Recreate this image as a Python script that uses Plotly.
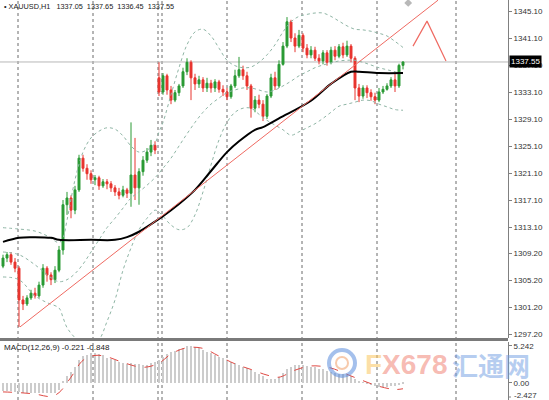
import plotly.graph_objects as go

# ---------------- data ----------------
idx = list(range(101))

opens = [1307.3,1308.5,1309.0,1307.9,1307.0,1302.3,1301.7,1302.6,1303.3,1302.9,
         1304.5,1307.0,1306.0,1305.3,1306.7,1309.7,1316.4,1317.4,1315.6,1318.6,
         1323.3,1321.8,1321.0,1320.1,1320.4,1319.2,1319.8,1319.5,1318.9,1318.3,
         1317.8,1318.6,1318.1,1320.8,1318.9,1321.3,1323.0,1324.2,1325.2,1335.2,
         1333.1,1335.5,1333.4,1331.9,1333.0,1334.0,1336.1,1337.5,1335.2,1334.3,
         1334.9,1333.7,1334.4,1333.7,1334.6,1333.5,1333.1,1332.4,1334.0,1335.5,
         1336.4,1335.5,1334.0,1330.7,1331.9,1331.3,1329.5,1332.5,1335.2,1334.0,
         1337.2,1339.9,1343.5,1341.1,1339.9,1341.5,1339.6,1338.6,1339.3,1338.1,
         1337.7,1338.9,1337.5,1339.3,1338.4,1339.8,1338.6,1339.9,1338.1,1333.7,
         1332.5,1333.7,1333.0,1332.4,1331.9,1333.1,1333.5,1334.0,1334.9,1334.0,
         1337.05]

closes = [1308.5,1309.0,1307.9,1307.0,1302.3,1301.7,1302.6,1303.3,1302.9,1304.5,
          1307.0,1306.0,1305.3,1306.7,1309.7,1316.4,1317.4,1315.6,1318.6,1323.3,
          1321.8,1321.0,1320.1,1320.4,1319.2,1319.8,1319.5,1318.9,1318.3,1317.8,
          1318.6,1318.1,1320.8,1318.9,1321.3,1323.0,1324.2,1325.2,1324.5,1333.1,
          1335.5,1333.4,1331.9,1333.0,1334.0,1336.1,1337.5,1335.2,1334.3,1334.9,
          1333.7,1334.4,1333.7,1334.6,1333.5,1333.1,1332.4,1334.0,1335.5,1336.4,
          1335.5,1334.0,1330.7,1331.9,1331.3,1329.5,1332.5,1335.2,1334.0,1337.2,
          1339.9,1343.5,1341.1,1339.9,1341.5,1339.6,1338.6,1339.3,1338.1,1337.7,
          1338.9,1337.5,1339.3,1338.4,1339.8,1338.6,1339.9,1338.1,1333.7,1332.5,
          1333.7,1333.0,1332.4,1331.9,1333.1,1333.5,1334.0,1334.9,1334.0,1337.05,
          1337.55]

highs = [1309.0,1309.4,1309.4,1308.5,1307.3,1302.9,1303.0,1303.8,1304.1,1305.0,
         1307.6,1307.3,1306.4,1307.3,1310.3,1317.1,1318.3,1317.8,1319.2,1323.8,
         1323.8,1322.4,1321.5,1320.8,1320.7,1320.2,1320.2,1319.9,1319.3,1318.9,
         1319.2,1318.9,1328.6,1326.3,1321.8,1323.6,1324.8,1326.0,1325.8,1337.5,
         1335.9,1335.8,1334.0,1333.4,1334.3,1336.7,1338.1,1337.8,1335.8,1335.5,
         1335.3,1335.2,1334.9,1335.0,1334.9,1334.1,1333.7,1334.3,1336.4,1338.3,
         1337.0,1336.1,1334.3,1332.5,1332.7,1331.9,1332.8,1335.8,1336.1,1337.8,
         1340.5,1344.2,1343.8,1341.8,1342.3,1341.8,1340.2,1339.9,1339.8,1338.7,
         1339.3,1339.3,1339.8,1339.9,1340.2,1340.4,1340.7,1340.2,1338.4,1334.3,
         1334.1,1334.1,1333.5,1333.0,1333.7,1334.0,1334.4,1335.3,1335.8,1337.3,
         1337.65]

lows = [1307.0,1307.9,1307.5,1306.4,1298.3,1300.8,1301.4,1302.3,1302.5,1302.6,
        1304.1,1305.0,1304.5,1304.8,1306.4,1309.0,1314.9,1314.4,1315.0,1318.3,
        1321.3,1320.1,1319.5,1319.3,1318.6,1318.9,1318.7,1318.3,1317.7,1317.2,
        1317.5,1317.4,1316.1,1317.1,1316.4,1320.7,1322.6,1323.6,1323.9,1332.5,
        1332.7,1332.7,1331.3,1331.6,1332.5,1333.7,1335.6,1331.9,1333.4,1333.7,
        1333.1,1333.1,1333.0,1333.1,1333.0,1332.5,1331.9,1332.1,1333.7,1335.2,
        1334.9,1333.4,1329.3,1330.1,1330.7,1328.8,1329.1,1332.2,1333.4,1333.7,
        1337.0,1339.6,1340.5,1339.0,1339.6,1339.0,1338.1,1338.1,1337.7,1337.2,
        1337.2,1337.0,1337.2,1337.8,1338.1,1338.1,1338.3,1337.5,1331.9,1331.6,
        1332.1,1332.2,1331.8,1331.3,1331.6,1332.8,1333.3,1333.7,1333.1,1333.7,
        1336.45]

# moving average (black)
ma_idx = [0, 4, 7, 12, 14, 22, 28, 31, 34, 38, 40, 44, 48, 52, 56, 59, 63, 65, 69, 77, 82, 87, 89, 94, 100]
ma_val = [1310.9, 1311.5, 1311.6, 1311.5, 1311.2, 1311.2, 1311.2, 1311.6, 1312.4, 1313.9, 1314.7,
          1316.5, 1318.6, 1321.4, 1324.2, 1325.8, 1327.5, 1327.9, 1329.2, 1331.8, 1334.3, 1336.1,
          1336.1, 1335.9, 1335.9]

# Bollinger bands
ub_idx = [0,4,8,11,14,15,16,18,20,22,24,26,28,30,32,34,36,38,39,40,42,44,46,48,50,52,54,56,58,60,
          62,64,66,68,70,72,74,76,78,80,82,84,86,88,90,92,94,96,98,100]
ub_val = [1313.0,1312.8,1312.5,1311.8,1310.8,1311.5,1314.1,1320.1,1324.2,1326.3,1327.3,1327.8,1327.6,
          1326.6,1325.1,1324.2,1324.5,1325.5,1327.2,1328.6,1332.7,1336.7,1340.1,1342.0,1342.4,1341.4,
          1339.6,1337.8,1337.0,1336.7,1336.8,1337.5,1338.6,1340.1,1342.0,1343.5,1344.3,1344.6,1344.8,
          1344.8,1344.3,1343.6,1342.9,1342.4,1342.3,1342.1,1341.8,1341.4,1340.6,1339.7]

mid_idx = [0,4,8,12,14,16,18,20,22,24,26,28,30,32,34,36,38,40,42,44,46,48,50,52,54,56,58,60,62,64,
           66,68,70,72,74,76,78,80,82,84,86,88,90,92,94,96,98,100]
mid_val = [1309.4,1309.0,1307.5,1305.6,1305.0,1305.3,1306.2,1307.6,1309.4,1311.2,1313.0,1314.4,1315.9,
           1317.4,1318.3,1319.3,1320.4,1321.8,1323.3,1325.1,1326.9,1328.6,1330.1,1331.3,1332.2,1333.0,
           1333.4,1333.7,1333.7,1333.4,1333.1,1333.4,1334.0,1334.7,1335.5,1336.1,1336.7,1337.1,1337.4,
           1337.7,1337.8,1337.8,1337.5,1337.1,1336.7,1336.4,1336.1,1335.8]

lb_idx = [0,4,8,11,14,15,16,18,20,22,24,26,28,30,32,34,36,38,39,40,42,44,46,48,50,52,54,56,58,60,
          62,64,66,68,70,72,74,76,78,80,82,84,86,88,90,92,94,96,98,100]
lb_val = [1305.7,1305.3,1302.9,1301.9,1301.1,1299.7,1298.2,1296.7,1295.7,1295.7,1296.4,1299.1,1302.3,
          1306.7,1310.0,1312.7,1314.4,1315.6,1315.3,1314.7,1313.4,1312.7,1313.0,1314.9,1318.3,1322.3,
          1326.0,1328.6,1330.1,1330.7,1330.7,1329.8,1328.9,1328.2,1327.5,1326.7,1327.2,1327.8,1328.4,
          1329.2,1330.1,1331.0,1331.3,1331.6,1331.9,1331.8,1331.3,1330.9,1330.5,1330.4]

# trend line and drawn pattern
trend_idx = [4.25, 108.75]
trend_val = [1298.3, 1346.7]
wave_idx = [102.5, 106.0, 110.75]
wave_val = [1339.9, 1343.6, 1337.7]

# day separators
sep_idx = [3.75, 22.5, 38.75, 39.75, 56.0, 74.75, 93.5, 113.25]

# MACD
macd_hist = [-1.2,-1.2,-1.2,-1.3,-1.3,-1.4,-1.4,-1.4,-1.5,-1.5,
             -1.4,-1.4,-1.5,-1.4,-1.0,0.2,1.0,1.5,2.2,3.2,
             3.8,4.0,4.2,4.2,4.1,3.9,3.6,3.4,3.2,3.0,
             2.8,2.7,2.8,2.7,2.7,2.6,2.6,2.8,3.0,3.3,
             3.7,4.1,4.4,4.6,4.8,5.0,5.2,5.2,5.1,5.0,
             4.7,4.4,4.2,4.0,3.7,3.5,3.3,3.0,2.8,2.5,
             2.3,2.1,1.8,1.5,1.2,0.9,0.6,0.5,0.5,0.8,
             1.4,1.9,2.3,2.5,2.5,2.5,2.4,2.3,2.2,2.0,
             1.9,1.7,1.5,1.4,1.3,1.2,1.1,0.9,0.6,0.3,
             0.1,-0.1,-0.3,-0.5,-0.6,-0.6,-0.6,-0.5,-0.5,-0.3,
             -0.221]
sig_idx = [0,4,8,12,14,17,20,23,26,30,35,39,42,46,50,54,58,62,66,69,73,77,82,86,90,94,98,100]
sig_val = [-1.3,-1.4,-1.6,-1.95,-1.4,0.8,3.2,3.9,3.7,2.9,2.2,2.8,4.1,5.0,4.9,3.8,2.7,1.9,1.1,0.8,
           1.8,2.4,2.1,1.2,0.3,-0.5,-0.95,-0.848]

price_ticks = [1345.10,1341.10,1337.10,1333.10,1329.10,1325.10,1321.10,1317.10,1313.10,
               1309.20,1305.20,1301.20,1297.20]
macd_ticks = [5.242, 0.0]
macd_ticktext = ["5.242", "0.00"]
macd_min_label = "-2.427"
last_price = 1337.55

# ---------------- figure ----------------
W, H = 549, 400
XR = 508 / W
GREEN = "#2a9a34"
RED = "#e8342e"
BAND = "#8fb5a5"
FONT = "Liberation Sans"

fig = go.Figure()

for xs, ys in [(ub_idx, ub_val), (mid_idx, mid_val), (lb_idx, lb_val)]:
    fig.add_trace(go.Scatter(x=xs, y=ys, mode="lines", line=dict(color=BAND, width=1, dash="dot", shape="spline"),
                             hoverinfo="skip", showlegend=False))

fig.add_trace(go.Scatter(x=ma_idx, y=ma_val, mode="lines", line=dict(color="#000000", width=2, shape="spline"),
                         showlegend=False))
fig.add_trace(go.Scatter(x=trend_idx, y=trend_val, mode="lines", line=dict(color="#ef6a62", width=1),
                         showlegend=False))
fig.add_trace(go.Scatter(x=wave_idx, y=wave_val, mode="lines", line=dict(color="#ef6a62", width=1.2),
                         showlegend=False))

fig.add_trace(go.Candlestick(x=idx, open=opens, high=highs, low=lows, close=closes,
                             increasing=dict(line=dict(color=GREEN, width=1), fillcolor=GREEN),
                             decreasing=dict(line=dict(color=RED, width=1), fillcolor=RED),
                             whiskerwidth=0, showlegend=False))

fig.add_trace(go.Scatter(x=[101.3], y=[1346.3], mode="markers",
                         marker=dict(symbol="diamond", size=6, color="#b8b8b8"), showlegend=False))

fig.add_trace(go.Bar(x=idx, y=macd_hist, xaxis="x2", yaxis="y2", marker=dict(color="#cccccc", line=dict(width=0)),
                     width=0.25, showlegend=False))
fig.add_trace(go.Scatter(x=sig_idx, y=sig_val, xaxis="x2", yaxis="y2", mode="lines",
                         line=dict(color="#e04a44", width=1, dash="dash", shape="spline"), showlegend=False))

shapes = []
for s in sep_idx:
    shapes.append(dict(type="line", xref="x", yref="paper", x0=s, x1=s, y0=0, y1=1,
                       line=dict(color="#6a6a6a", width=1, dash="dot"), layer="below"))
shapes.append(dict(type="line", xref="paper", yref="y", x0=0, x1=XR, y0=last_price, y1=last_price,
                   line=dict(color="#b8b8b8", width=1), layer="below"))
shapes.append(dict(type="rect", xref="paper", yref="paper", x0=0, x1=XR, y0=1 - 341 / H, y1=1 - 338 / H,
                   fillcolor="#7a7a7a", line=dict(width=0)))
# small tick for the lowest MACD label
shapes.append(dict(type="line", xref="paper", yref="paper", x0=XR, x1=511 / W, y0=1 - 397 / H, y1=1 - 397 / H,
                   line=dict(color="#808080", width=1)))
# watermark logo
shapes.append(dict(type="circle", xref="paper", yref="paper", x0=329 / W, x1=355 / W,
                   y0=1 - 376 / H, y1=1 - 350 / H, line=dict(color="rgba(90,140,220,0.55)", width=4)))
shapes.append(dict(type="circle", xref="paper", yref="paper", x0=336 / W, x1=348 / W,
                   y0=1 - 369 / H, y1=1 - 357 / H, line=dict(color="rgba(240,150,90,0.5)", width=2)))

sp = "&nbsp;"
annotations = [
    dict(text="•" + sp + "XAUUSD,H1" + sp * 3 + "1337.05" + sp * 2 + "1337.65" + sp * 2 + "1336.45" + sp * 2 + "1337.55",
         xref="paper", yref="paper", x=2 / W, y=1 - 6 / H, xanchor="left", yanchor="middle",
         showarrow=False, font=dict(family=FONT, size=7.3, color="#222222")),
    dict(text="MACD(12,26,9) -0.221 -0.848", xref="paper", yref="paper", x=2 / W, y=1 - 347 / H,
         xanchor="left", yanchor="middle", showarrow=False, font=dict(family=FONT, size=8, color="#222222")),
    dict(text="1337.55", xref="paper", yref="y", x=509 / W, y=last_price, xanchor="left", yanchor="middle",
         showarrow=False, bgcolor="#000000", borderpad=1, font=dict(family=FONT, size=8, color="#ffffff")),
    dict(text=macd_min_label, xref="paper", yref="paper", x=512 / W, y=1 - 395.5 / H, xanchor="left",
         yanchor="middle", showarrow=False, font=dict(family=FONT, size=8, color="#333333")),
    dict(text="<b><span style='color:rgba(250,195,90,0.55)'>F</span>"
              "<span style='color:rgba(240,130,115,0.55)'>X678</span></b>",
         xref="paper", yref="paper", x=406 / W, y=1 - 364 / H, xanchor="center", yanchor="middle",
         showarrow=False, font=dict(family="Liberation Sans Narrow, Liberation Sans", size=28)),
    dict(text="<b>汇通网</b>", xref="paper", yref="paper", x=491 / W, y=1 - 364 / H, xanchor="center",
         yanchor="middle", showarrow=False,
         font=dict(family="Noto Sans CJK SC", size=26, color="rgba(110,155,225,0.5)")),
]

axis_font = dict(family=FONT, size=8, color="#333333")
fig.update_layout(
    width=W, height=H, margin=dict(l=0, r=0, t=0, b=0),
    paper_bgcolor="white", plot_bgcolor="white", showlegend=False,
    bargap=0,
    xaxis=dict(domain=[0, XR], range=[-0.75, 126.25], anchor="y", showgrid=False, zeroline=False,
               showticklabels=False, ticks="", rangeslider=dict(visible=False), fixedrange=True),
    yaxis=dict(domain=[1 - 338 / H, 1], range=[1296.66, 1346.73], side="right", anchor="x",
               tickvals=price_ticks, ticktext=[f"{v:.2f}" for v in price_ticks],
               showgrid=False, zeroline=False, showline=True, linecolor="#808080", linewidth=1,
               ticks="outside", ticklen=3, tickcolor="#808080", tickfont=axis_font),
    xaxis2=dict(domain=[0, XR], range=[-0.75, 126.25], anchor="y2", matches="x", showgrid=False,
                zeroline=False, showticklabels=False, ticks="", visible=False),
    yaxis2=dict(domain=[0, 1 - 342 / H], range=[-2.45, 5.81], side="right", anchor="x2",
                tickvals=macd_ticks, ticktext=macd_ticktext, showgrid=False, zeroline=False,
                showline=True, linecolor="#808080", linewidth=1, ticks="outside", ticklen=3,
                tickcolor="#808080", tickfont=axis_font),
    shapes=shapes, annotations=annotations,
)

fig.write_html("out.html", config={"displayModeBar": False},
               post_script="document.body.style.margin='0px';document.body.style.overflow='hidden';")
